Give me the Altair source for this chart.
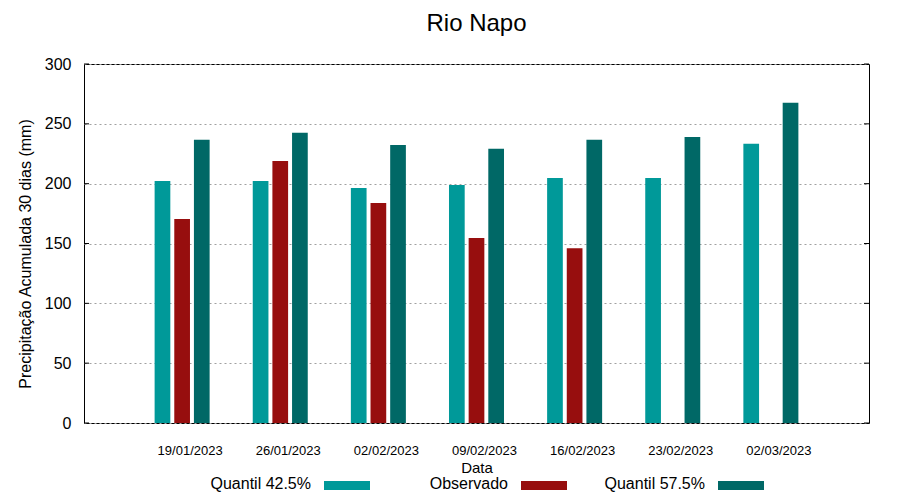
import altair as alt
import pandas as pd

dates = ["19/01/2023", "26/01/2023", "02/02/2023", "09/02/2023",
         "16/02/2023", "23/02/2023", "02/03/2023"]
q425 = [202.3, 202.3, 196.4, 198.9, 204.8, 204.8, 233.3]
observado = [170.4, 219.0, 183.8, 154.5, 146.1, None, None]
q575 = [236.6, 242.5, 232.4, 229.1, 236.6, 239.1, 267.6]
series = ["Quantil 42.5%", "Observado", "Quantil 57.5%"]
colors = ["#009999", "#970e0e", "#006866"]
yticks = [0, 50, 100, 150, 200, 250, 300]

rows = []
for name, vals in zip(series, [q425, observado, q575]):
    for d, v in zip(dates, vals):
        if v is not None:
            rows.append({"Data": d, "Serie": name, "Valor": v})
df = pd.DataFrame(rows)

FONT = "Liberation Sans"
W, H = 785, 359

bars = alt.Chart(df).mark_bar().encode(
    x=alt.X("Data:N", sort=dates,
            scale=alt.Scale(domain=dates, paddingInner=0.4394, paddingOuter=0.7197),
            axis=alt.Axis(title="Data", labelAngle=0, ticks=False, domain=False,
                          labelFontSize=13, labelOffset=8, labelPadding=21,
                          titleFontSize=15, titleFontWeight="normal", titlePadding=3,
                          labelColor="black", titleColor="black")),
    xOffset=alt.XOffset("Serie:N", sort=series,
                        scale=alt.Scale(domain=series, paddingInner=0.201, paddingOuter=0)),
    y=alt.Y("Valor:Q", scale=alt.Scale(domain=[0, 300]),
            axis=alt.Axis(values=yticks, grid=True, gridDash=[2, 3], gridColor="#a0a0a0",
                          gridWidth=1, ticks=False, domain=False, labelFontSize=16,
                          labelPadding=13, labelColor="black",
                          title="Precipitação Acumulada 30 dias (mm)",
                          titleFontSize=16, titleFontWeight="normal", titleColor="black",
                          titleX=-59, titleY=189.5, titleBaseline="middle")),
    color=alt.Color("Serie:N", scale=alt.Scale(domain=series, range=colors), legend=None),
)

tick_df = pd.DataFrame({"v": yticks})
left_ticks = alt.Chart(tick_df).mark_rule(color="black", strokeWidth=1).encode(
    y="v:Q", x=alt.value(0), x2=alt.value(5))
right_ticks = alt.Chart(tick_df).mark_rule(color="black", strokeWidth=1).encode(
    y="v:Q", x=alt.value(W - 5), x2=alt.value(W))

layers = [bars, left_ticks, right_ticks]
for k, (name, col) in enumerate(zip(series, colors)):
    ldf = pd.DataFrame({"nome": [name]})
    layers.append(alt.Chart(ldf).mark_text(align="right", baseline="alphabetic",
                                           fontSize=16, font=FONT, color="black").encode(
        text="nome:N", x=alt.value(227 + 197 * k), y=alt.value(425)))
    layers.append(alt.Chart(ldf).mark_rect(color=col).encode(
        x=alt.value(240 + 197 * k), x2=alt.value(286 + 197 * k),
        y=alt.value(417), y2=alt.value(426)))

chart = alt.layer(*layers).properties(
    width=W, height=H,
    title=alt.Title("Rio Napo", fontSize=24, fontWeight="normal", font=FONT,
                    color="black", anchor="middle", frame="group", offset=20),
    autosize="none",
    padding={"left": 76, "top": 56, "right": 15, "bottom": 69},
).configure(font=FONT).configure_view(stroke="black", strokeWidth=1).configure_axis(
    labelFont=FONT, titleFont=FONT)

chart.save("out.html", embed_options={"renderer": "svg", "actions": False})
